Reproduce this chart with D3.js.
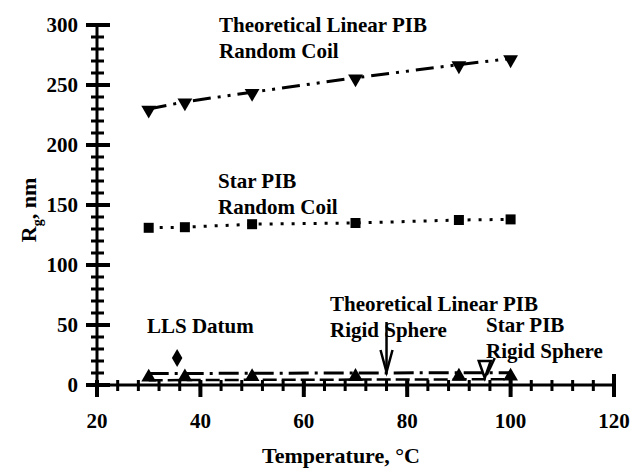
<!DOCTYPE html>
<html>
<head>
<meta charset="utf-8">
<script src="https://cdn.jsdelivr.net/npm/d3@7"></script>
<style>
  body { margin: 0; background: #fff; }
  text { font-family: "Liberation Serif", "Times New Roman", serif; font-weight: bold; fill: #000; }
</style>
</head>
<body>
<script>
// Data
var temps = [30, 37, 50, 70, 90, 100];
var linearCoil = [230, 236, 244, 256, 267, 272];
var starCoil = [131, 131.5, 134, 135, 137.5, 138];
var linearSphere = [9.5, 9.6, 9.8, 10, 10.2, 10.3];
var starSphere = [6.5, 6.6, 6.8, 7, 7.2, 7.3];
var llsDatum = [{t: 35.5, r: 22.5}];
var xTicks = [20, 40, 60, 80, 100, 120];
var yTicks = [0, 50, 100, 150, 200, 250, 300];

var svg = d3.select("body").append("svg")
    .attr("width", 639)
    .attr("height", 472);

var x = d3.scaleLinear().domain([20, 120]).range([97, 614]);
var y = d3.scaleLinear().domain([0, 300]).range([385, 25]);

// axis frame and ticks drawn as filled rects
var ax = svg.append("g").attr("fill", "#000");
ax.append("rect").attr("x", x(20)).attr("y", y(0) - 1.5).attr("width", x(120) - x(20)).attr("height", 3);
ax.append("rect").attr("x", x(20) - 1.5).attr("y", y(300)).attr("width", 3).attr("height", y(0) - y(300) + 8);

ax.selectAll(".xmin").data(d3.range(20, 121, 4)).enter().append("rect")
  .attr("x", function(d) { return x(d) - 1.5; }).attr("y", y(0) - 5)
  .attr("width", 3).attr("height", 11);
ax.selectAll(".xmaj").data(xTicks).enter().append("rect")
  .attr("x", function(d) { return x(d) - 2; }).attr("y", function(d) { return d === 120 ? y(0) - 11 : y(0) - 5; })
  .attr("width", 4).attr("height", function(d) { return d === 120 ? 23 : 17; });
ax.selectAll(".ymin").data(d3.range(0, 301, 10)).enter().append("rect")
  .attr("x", x(20) - 6).attr("y", function(d) { return y(d) - 1.5; })
  .attr("width", 13).attr("height", 3);
ax.selectAll(".ymaj").data(yTicks).enter().append("rect")
  .attr("x", x(20) - 11).attr("y", function(d) { return y(d) - 2; })
  .attr("width", 24).attr("height", 4);

// tick labels
svg.selectAll(".xl").data(xTicks).enter().append("text")
  .attr("x", function(d) { return x(d); })
  .attr("y", 428)
  .attr("text-anchor", "middle")
  .attr("font-size", 21)
  .text(function(d) { return d; });
svg.selectAll(".yl").data(yTicks).enter().append("text")
  .attr("x", 78)
  .attr("y", function(d) { return y(d) + 7; })
  .attr("text-anchor", "end")
  .attr("font-size", 21)
  .text(function(d) { return d; });

// axis titles
svg.append("text").attr("x", 341).attr("y", 463).attr("text-anchor", "middle")
  .attr("font-size", 22).text("Temperature, \u00B0C");
var yt = svg.append("text").attr("transform", "translate(36,210) rotate(-90)")
  .attr("text-anchor", "middle").attr("font-size", 22);
yt.append("tspan").text("R");
yt.append("tspan").attr("font-size", 14).attr("dy", 6).text("g");
yt.append("tspan").attr("dy", -6).text(", nm");

// lines
var path = function(vals) {
  return d3.line().x(function(d, i) { return x(temps[i]); }).y(function(d) { return y(d); })(vals);
};
svg.append("path").attr("d", path(linearCoil)).attr("fill", "none").attr("stroke", "#000")
  .attr("stroke-width", 3).attr("stroke-dasharray", "18,7,3,7,3,7");
svg.append("path").attr("d", path(starCoil)).attr("fill", "none").attr("stroke", "#000")
  .attr("stroke-width", 3).attr("stroke-dasharray", "3,8");
svg.append("path").attr("d", path(linearSphere)).attr("fill", "none").attr("stroke", "#000")
  .attr("stroke-width", 3).attr("stroke-dasharray", "20,6,3,6");
svg.append("path").attr("d", path(starSphere.map(function(v) { return v - 2.5; }))).attr("fill", "none").attr("stroke", "#000")
  .attr("stroke-width", 2.5).attr("stroke-dasharray", "14,5");

// markers
var tri = d3.symbol().type(d3.symbolTriangle).size(95);
svg.selectAll(".dt").data(linearCoil).enter().append("path")
  .attr("d", tri)
  .attr("transform", function(d, i) { return "translate(" + x(temps[i]) + "," + (y(d) + 1) + ") rotate(180)"; });
svg.selectAll(".sq").data(starCoil).enter().append("path")
  .attr("d", d3.symbol().type(d3.symbolSquare).size(100))
  .attr("transform", function(d, i) { return "translate(" + x(temps[i]) + "," + y(d) + ")"; });
svg.selectAll(".ut").data(starSphere).enter().append("path")
  .attr("d", tri)
  .attr("transform", function(d, i) { return "translate(" + x(temps[i]) + "," + y(d) + ")"; });
svg.selectAll(".dm").data(llsDatum).enter().append("path")
  .attr("d", d3.symbol().type(d3.symbolDiamond).size(95))
  .attr("transform", function(d) { return "translate(" + x(d.t) + "," + y(d.r) + ")"; });

// annotations
function label(tx, ty, lines) {
  var t = svg.append("text").attr("x", tx).attr("y", ty).attr("font-size", 21);
  lines.forEach(function(s, i) {
    t.append("tspan").attr("x", tx).attr("dy", i ? 26 : 0).text(s);
  });
}
label(219, 32, ["Theoretical Linear PIB", "Random Coil"]);
label(218, 188, ["Star PIB", "Random Coil"]);
label(147, 333, ["LLS Datum"]);
label(330, 311, ["Theoretical Linear PIB", "Rigid Sphere"]);
label(486, 332, ["Star PIB", "Rigid Sphere"]);

// arrows
svg.append("rect").attr("x", x(76) - 1.25).attr("y", 322).attr("width", 2.5).attr("height", 48);
svg.append("path").attr("d", "M" + (x(76) - 6) + ",350 L" + x(76) + ",372 L" + (x(76) + 6) + ",350")
  .attr("fill", "none").attr("stroke", "#000").attr("stroke-width", 2.5);
svg.append("path").attr("d", "M" + (x(95) - 6) + ",361 L" + (x(95) + 6) + ",361 L" + x(95) + ",378 Z")
  .attr("fill", "#fff").attr("stroke", "#000").attr("stroke-width", 2.5);
svg.append("path").attr("d", "M" + (x(95) + 2) + ",375 L" + (x(95) + 10) + ",358")
  .attr("stroke", "#000").attr("stroke-width", 2.5);
</script>
</body>
</html>
